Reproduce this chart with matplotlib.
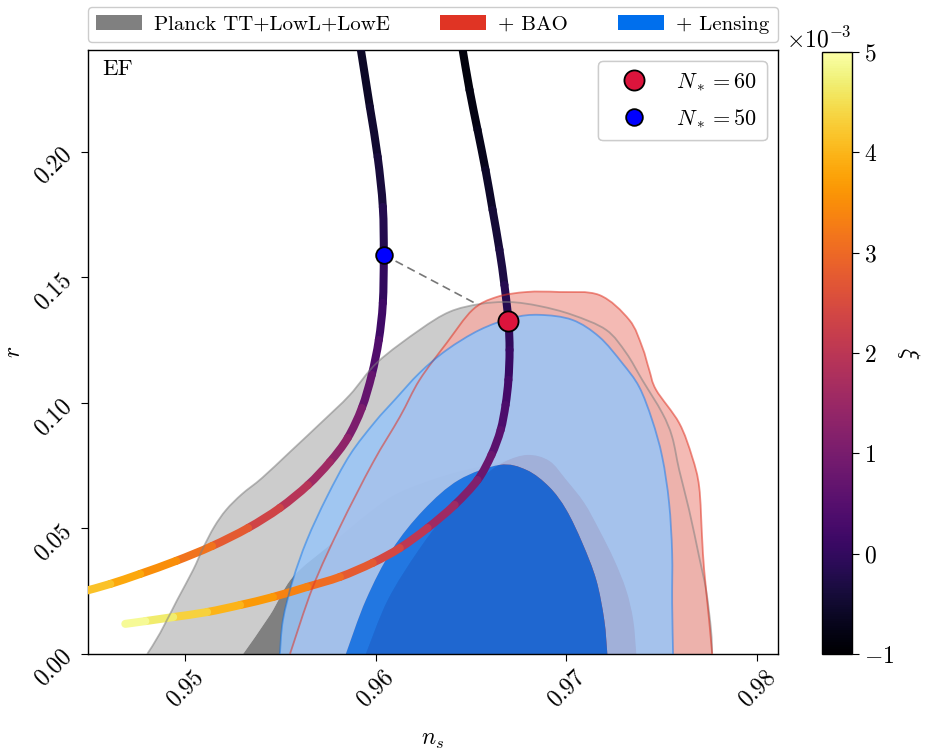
import numpy as np
import matplotlib
matplotlib.use("Agg")
import matplotlib.pyplot as plt
from matplotlib.path import Path
from matplotlib.patches import PathPatch, Patch
from matplotlib.colors import Normalize, to_rgb
import matplotlib.ticker as mticker

plt.rcParams.update({
    "font.family": "serif",
    "font.serif": ["cmr10"],
    "mathtext.fontset": "cm",
    "axes.formatter.use_mathtext": True,
    "font.size": 15,
    "xtick.labelsize": 17,
    "ytick.labelsize": 17,
})

# ---------------- data ----------------
# Planck TT+lowL+lowE (68% / 95% regions) in the (n_s, r) plane
planck_95_ns = [0.94801, 0.94869, 0.94958, 0.95042, 0.95094, 0.95152, 0.95215, 0.95298,
                0.95403, 0.95550, 0.95717, 0.95864, 0.96010, 0.96230, 0.96387, 0.96545,
                0.96702, 0.96859, 0.97031, 0.97209, 0.97314, 0.97398, 0.97503, 0.97555,
                0.97592, 0.97644, 0.97697, 0.97733, 0.97759, 0.97765]
planck_95_r = [0.0, 0.0084, 0.0215, 0.0335, 0.0422, 0.0506, 0.0574, 0.0637,
               0.0701, 0.0805, 0.0924, 0.1032, 0.1163, 0.1291, 0.1363, 0.1394,
               0.1402, 0.1386, 0.1351, 0.1291, 0.1199, 0.1092, 0.0960, 0.0865,
               0.0733, 0.0574, 0.0386, 0.0255, 0.0096, 0.0]
planck_68_ns = [0.95304, 0.95445, 0.95565, 0.95759, 0.95969, 0.96126, 0.96387, 0.96634,
                0.96796, 0.96911, 0.97000, 0.97094, 0.97173, 0.97251, 0.97314, 0.97351, 0.97367]
planck_68_r = [0.0, 0.0155, 0.0307, 0.0434, 0.0566, 0.0645, 0.0717, 0.0761,
               0.0793, 0.0769, 0.0693, 0.0602, 0.0494, 0.0375, 0.0255, 0.0135, 0.0]

# + BAO
bao_95_ns = [0.95550, 0.95670, 0.95812, 0.95984, 0.96126, 0.96230, 0.96372, 0.96508,
             0.96634, 0.96791, 0.96963, 0.97173, 0.97330, 0.97398, 0.97435, 0.97471,
             0.97592, 0.97660, 0.97697, 0.97712, 0.97723, 0.97749, 0.97765]
bao_95_r = [0.0, 0.0267, 0.0506, 0.0761, 0.0944, 0.1092, 0.1239, 0.1371,
            0.1422, 0.1442, 0.1442, 0.1430, 0.1331, 0.1223, 0.1131, 0.1052,
            0.0920, 0.0785, 0.0665, 0.0466, 0.0335, 0.0135, 0.0]
bao_68_ns = [0.95948, 0.96063, 0.96225, 0.96387, 0.96555, 0.96675, 0.96796, 0.96911,
             0.97000, 0.97094, 0.97173, 0.97251, 0.97314, 0.97351, 0.97367]
bao_68_r = [0.0, 0.0215, 0.0414, 0.0574, 0.0701, 0.0765, 0.0793, 0.0769,
            0.0693, 0.0602, 0.0494, 0.0375, 0.0255, 0.0135, 0.0]

# + Lensing
lens_95_ns = [0.95497, 0.95513, 0.95565, 0.95639, 0.95743, 0.95864, 0.95995, 0.96099,
              0.96230, 0.96372, 0.96545, 0.96717, 0.96859, 0.97031, 0.97173, 0.97293,
              0.97382, 0.97450, 0.97503, 0.97539, 0.97555, 0.97555, 0.97560]
lens_95_r = [0.0, 0.0135, 0.0295, 0.0454, 0.0625, 0.0793, 0.0924, 0.1012,
             0.1120, 0.1211, 0.1291, 0.1339, 0.1351, 0.1331, 0.1263, 0.1159,
             0.1064, 0.0932, 0.0785, 0.0602, 0.0402, 0.0203, 0.0]
lens_68_ns = [0.95843, 0.95948, 0.96084, 0.96251, 0.96435, 0.96649, 0.96791, 0.96911,
              0.97000, 0.97084, 0.97157, 0.97199, 0.97215]
lens_68_r = [0.0, 0.0215, 0.0414, 0.0574, 0.0693, 0.0753, 0.0733, 0.0665,
             0.0574, 0.0442, 0.0295, 0.0135, 0.0]

# EF predictions, N_* = 50 and N_* = 60, parametrised by xi (units of 1e-3)
n50_ns = [0.95922, 0.95969, 0.96010, 0.96037, 0.96042, 0.96037, 0.96016, 0.95979, 0.95927,
          0.95853, 0.95759, 0.95644, 0.95497, 0.95330, 0.95141, 0.94953, 0.94764, 0.94607,
          0.94476]
n50_r = [0.2406, 0.2179, 0.1980, 0.1781, 0.1590, 0.1398, 0.1251, 0.1112, 0.0980,
         0.0861, 0.0765, 0.0673, 0.0582, 0.0502, 0.0430, 0.0371, 0.0319, 0.0279,
         0.0251]
n50_xi = [-0.65, -0.55, -0.45, -0.30, -0.10, 0.10, 0.28, 0.55, 0.90,
          1.20, 1.45, 1.75, 2.15, 2.55, 2.95, 3.30, 3.70, 4.00,
          4.30]

n60_ns = [0.96456, 0.96492, 0.96534, 0.96576, 0.96613, 0.96649, 0.96675, 0.96696, 0.96702,
          0.96696, 0.96681, 0.96655, 0.96607, 0.96534, 0.96414, 0.96272, 0.96126, 0.95984,
          0.95812, 0.95639, 0.95461, 0.95288, 0.95115, 0.94937, 0.94791, 0.94686]
n60_r = [0.2406, 0.2247, 0.2088, 0.1928, 0.1769, 0.1610, 0.1470, 0.1327, 0.1211,
         0.1092, 0.0992, 0.0892, 0.0793, 0.0693, 0.0594, 0.0502, 0.0422, 0.0363,
         0.0307, 0.0267, 0.0227, 0.0195, 0.0167, 0.0147, 0.0131, 0.0120]
n60_xi = [-0.90, -0.85, -0.75, -0.65, -0.50, -0.35, -0.25, -0.10, 0.05,
          0.15, 0.30, 0.45, 0.65, 0.95, 1.35, 1.80, 2.25, 2.60,
          2.90, 3.20, 3.50, 3.80, 4.15, 4.50, 4.80, 5.00]

# marked points on each track
star60 = (0.96696, 0.1327)
star50 = (0.96042, 0.1590)

xi_ticks = [-1, 0, 1, 2, 3, 4, 5]
x_ticks = [0.95, 0.96, 0.97, 0.98]
y_ticks = [0.00, 0.05, 0.10, 0.15, 0.20]

# ---------------- helpers ----------------
def bezier_pieces(xs, ys):
    """Catmull-Rom control points for each span between consecutive vertices."""
    p = np.column_stack([xs, ys]).astype(float)
    n = len(p)
    out = []
    for i in range(n - 1):
        p0 = p[i - 1] if i > 0 else p[i]
        p1, p2 = p[i], p[i + 1]
        p3 = p[i + 2] if i + 2 < n else p[i + 1]
        out.append((p1, p1 + (p2 - p0) / 6.0, p2 - (p3 - p1) / 6.0, p2))
    return out


def smooth_path(xs, ys, close=False, reverse=False):
    if reverse:
        xs, ys = xs[::-1], ys[::-1]
    pieces = bezier_pieces(xs, ys)
    verts = [pieces[0][0]]
    codes = [Path.MOVETO]
    for _, c1, c2, p2 in pieces:
        verts += [c1, c2, p2]
        codes += [Path.CURVE4] * 3
    if close:
        verts += [verts[0], verts[0]]
        codes += [Path.LINETO, Path.CLOSEPOLY]
    return verts, codes


def pale(color, f=0.6):
    c = np.array(to_rgb(color))
    return tuple(c * (1 - f) + f)


def add_contours(ax, outer, inner, color, alpha, z, edge_alpha):
    """Filled 95% band (outer minus inner) plus filled 68% region, getdist style."""
    vo, co = smooth_path(*outer, close=True)
    vi, ci = smooth_path(*inner, close=True, reverse=True)
    band = Path(vo + vi, co + ci)
    ax.add_patch(PathPatch(band, facecolor=pale(color), edgecolor="none",
                           alpha=alpha, zorder=z))
    v1, c1 = smooth_path(*inner, close=True)
    ax.add_patch(PathPatch(Path(v1, c1), facecolor=color, edgecolor="none",
                           alpha=alpha, zorder=z + 0.01))
    ve, ce = smooth_path(*outer)
    ax.add_patch(PathPatch(Path(ve, ce), facecolor="none", edgecolor=color,
                           lw=1.3, alpha=edge_alpha, zorder=3.5))


def add_track(ax, xs, ys, xi, cmap, norm):
    xi = np.asarray(xi) * 1e-3
    for k, (p1, c1, c2, p2) in enumerate(bezier_pieces(xs, ys)):
        col = cmap(norm(0.5 * (xi[k] + xi[k + 1])))
        path = Path([p1, c1, c2, p2], [Path.MOVETO] + [Path.CURVE4] * 3)
        ax.add_patch(PathPatch(path, facecolor="none", edgecolor=col, lw=5.8,
                               capstyle="round", joinstyle="round", zorder=3))


GREY, RED, BLUE = "#808080", "#E03424", "#006FED"

# ---------------- figure ----------------
fig = plt.figure(figsize=(9.25, 7.53), dpi=100)
ax = fig.add_axes([0.0951, 0.1315, 0.7459, 0.8021])
cax = fig.add_axes([0.8886, 0.1315, 0.0324, 0.7994])

# dashed connector between the two marked points
ax.plot([star50[0], star60[0]], [star50[1], star60[1]], ls="--", dashes=(5, 3),
        color="#777777", lw=1.2, zorder=1)

add_contours(ax, (planck_95_ns, planck_95_r), (planck_68_ns, planck_68_r),
             GREY, 1.0, 2.0, 0.55)
add_contours(ax, (bao_95_ns, bao_95_r), (bao_68_ns, bao_68_r),
             RED, 0.85, 2.2, 0.55)
add_contours(ax, (lens_95_ns, lens_95_r), (lens_68_ns, lens_68_r),
             BLUE, 0.85, 2.4, 0.45)

cmap = plt.get_cmap("inferno")
norm = Normalize(vmin=-1e-3, vmax=5e-3)
add_track(ax, n50_ns, n50_r, n50_xi, cmap, norm)
add_track(ax, n60_ns, n60_r, n60_xi, cmap, norm)

h60, = ax.plot(*star60, "o", ms=14.5, mfc="#DC143C", mec="k", mew=1.3, zorder=5,
               ls="none", label=r"$N_*=60$")
h50, = ax.plot(*star50, "o", ms=12, mfc="#0000FF", mec="k", mew=1.3, zorder=5,
               ls="none", label=r"$N_*=50$")

ax.set_xlim(0.9449, 0.9811)
ax.set_ylim(0.0, 0.2406)
ax.set_xticks(x_ticks)
ax.set_yticks(y_ticks)
ax.xaxis.set_major_formatter(mticker.FormatStrFormatter("%.2f"))
ax.yaxis.set_major_formatter(mticker.FormatStrFormatter("%.2f"))
ax.tick_params(axis="x", labelrotation=45, length=5)
ax.tick_params(axis="y", labelrotation=45, length=5)
ax.set_xlabel(r"$n_s$", fontsize=17, labelpad=13)
ax.set_ylabel(r"$r$", fontsize=17, labelpad=4)
for s in ax.spines.values():
    s.set_linewidth(1.0)

ax.text(0.021, 0.985, "EF", transform=ax.transAxes, ha="left", va="top", fontsize=16.5)

leg1 = ax.legend(handles=[h60, h50], loc="upper right", fontsize=16,
                 handlelength=2.3, handletextpad=0.75, labelspacing=0.65,
                 borderpad=0.45, framealpha=1.0)
ax.add_artist(leg1)

patches = [Patch(facecolor=GREY, label="Planck TT+LowL+LowE"),
           Patch(facecolor=RED, label="+ BAO"),
           Patch(facecolor=BLUE, label="+ Lensing")]
fig.legend(handles=patches, loc="lower left", ncol=3, mode="expand",
           bbox_to_anchor=(88 / 925 - 0.0003, 711 / 753, 690 / 925, 0.05),
           fontsize=15, handlelength=2.2, handleheight=0.7, handletextpad=0.6,
           borderpad=0.4, borderaxespad=0.0, framealpha=1.0)

sm = matplotlib.cm.ScalarMappable(norm=norm, cmap=cmap)
cbar = fig.colorbar(sm, cax=cax)
cbar.set_ticks(np.array(xi_ticks) * 1e-3)
fmt = mticker.ScalarFormatter(useMathText=True)
fmt.set_powerlimits((0, 0))
cbar.formatter = fmt
cbar.update_ticks()
cax.yaxis.get_offset_text().set_horizontalalignment("right")
cax.yaxis.get_offset_text().set_fontsize(17)
cax.tick_params(labelsize=17, length=5)
cbar.outline.set_linewidth(1.0)
cbar.set_label(r"$\xi$", rotation=270, fontsize=17, labelpad=20)

fig.savefig("out.png", dpi=100)
